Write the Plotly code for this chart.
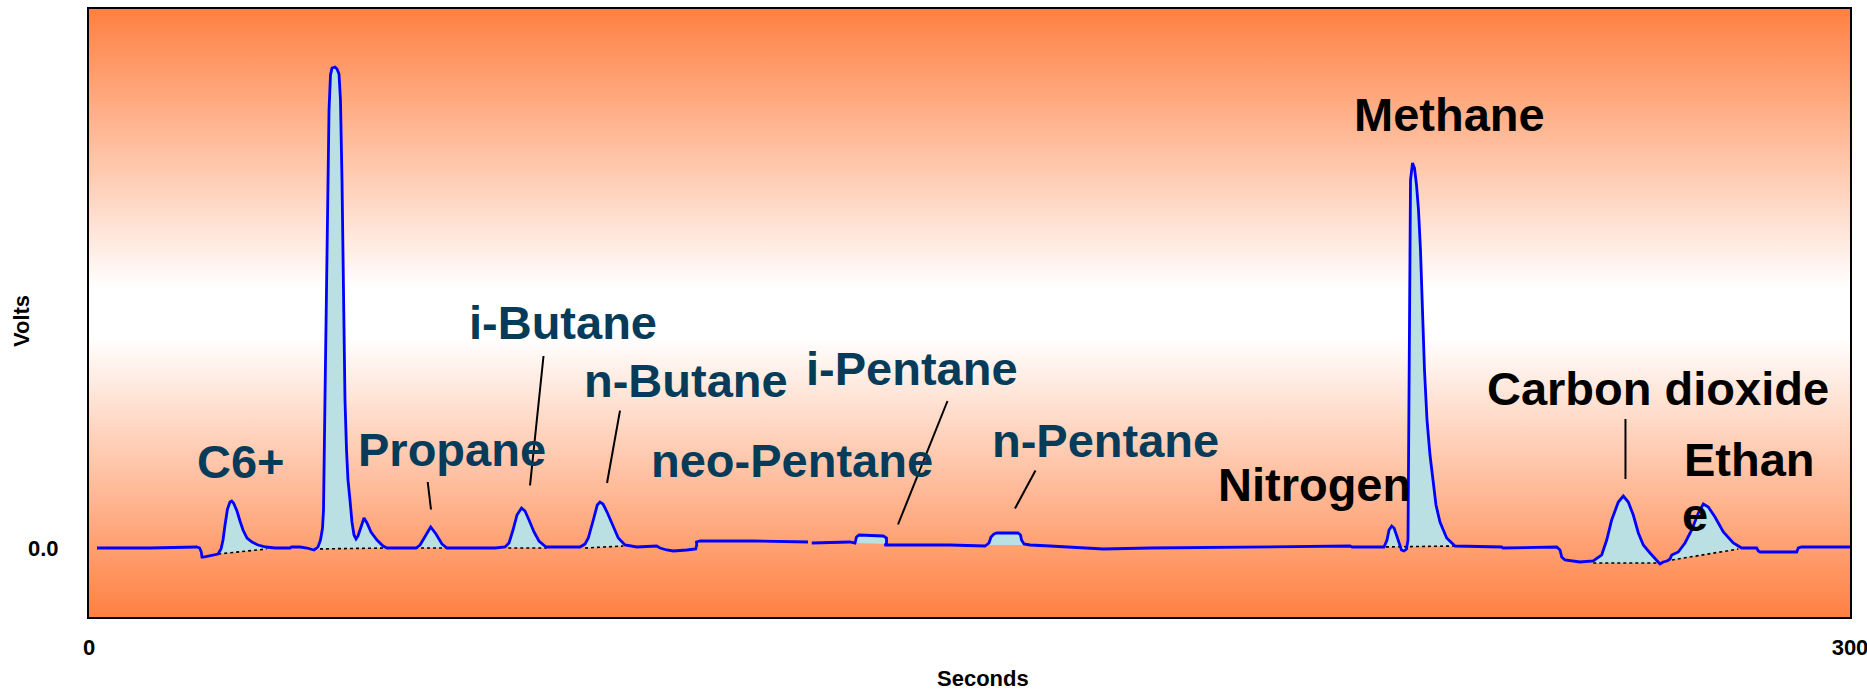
import plotly.graph_objects as go

# ---------------- data ----------------
# Chromatogram signal: time (s) and detector output (V); None = pen break
time_s = [1.36, 10.39, 18.35, 18.86, 19.13, 19.25, 19.51, 20.61, 21.98, 22.49, 22.83, 23.17, 23.59, 24.02, 24.31,
          24.62, 25.21, 25.72, 26.24, 26.92, 27.77, 28.79, 30.15, 31.69, 34.24, 34.50, 35.95, 37.14, 38.33, 39.01,
          39.44, 39.78, 39.95, 40.20, 40.55, 40.89, 41.14, 41.40, 41.91, 42.25, 42.59, 42.84, 43.10, 43.36, 43.61,
          43.87, 44.12, 44.46, 44.80, 45.14, 45.49, 45.83, 46.34, 46.85, 47.36, 48.04, 49.06, 50.09, 50.77, 54.68,
          55.71, 56.39, 57.24, 58.21, 59.11, 60.14, 60.99, 64.91, 69.17, 70.87, 71.55, 72.23, 72.91, 73.68, 74.28,
          74.96, 75.81, 76.66, 77.85, 80.24, 83.65, 84.50, 85.06, 85.91, 86.59, 87.05, 87.56, 88.25, 89.05, 90.17,
          91.31, 93.31, 96.71, 97.27, 98.42, 99.54, 101.82, 103.36, 103.53, 103.49, 104.09, 113.12, 122.49, None,
          123.12, 129.64, 130.49, 130.75, 131.18, 135.32, 135.86, 135.86, 135.52, 146.68, 152.64, 153.32, 153.66,
          154.17, 154.68, 158.26, 158.69, 158.86, 159.28, 160.31, 163.71, 170.53, 172.79, 180.75, 197.79, 214.82,
          215.16, 220.61, 221.12, 221.47, 221.93, 222.32, 222.74, 223.22, 223.59, 224.02, 224.45, 224.70, 224.82,
          224.96, 225.13, 225.47, 225.81, 226.15, 226.49, 226.83, 227.17, 227.51, 227.94, 228.45, 228.96, 229.47,
          230.15, 231.29, 232.71, 240.66, 240.89, 250.03, 250.60, 250.89, 251.45, 254.00, 256.27, 257.70, 258.55,
          259.40, 260.53, 261.38, 262.23, 263.08, 263.94, 264.79, 265.93, 267.07, 267.63, 268.19, 268.82, 269.34,
          269.63, 270.75, 271.89, 273.03, 274.16, 275.01, 275.86, 277.00, 278.42, 280.12, 281.55, 284.10, 284.38,
          284.67, 290.92, 291.19, 291.77, 300.0]
volts = [0.00, 0.00, 0.01, 0.00, -0.04, -0.09, -0.09, -0.08, -0.06, -0.01, 0.08, 0.23, 0.39, 0.46, 0.47,
         0.45, 0.37, 0.27, 0.18, 0.10, 0.06, 0.03, 0.01, 0.00, 0.00, 0.01, 0.01, 0.00, -0.02, 0.01,
         0.08, 0.20, 0.38, 1.48, 2.98, 4.38, 4.73, 4.80, 4.81, 4.79, 4.74, 4.48, 3.68, 2.48, 1.48,
         0.98, 0.68, 0.48, 0.26, 0.13, 0.09, 0.12, 0.22, 0.30, 0.25, 0.16, 0.08, 0.02, 0.00, 0.00,
         0.00, 0.03, 0.11, 0.21, 0.14, 0.04, 0.00, 0.00, 0.00, 0.01, 0.05, 0.18, 0.33, 0.40, 0.37,
         0.28, 0.16, 0.07, 0.01, 0.01, 0.01, 0.04, 0.10, 0.28, 0.43, 0.46, 0.44, 0.36, 0.25, 0.10,
         0.03, 0.01, 0.02, 0.00, -0.02, -0.03, -0.02, -0.01, 0.03, 0.06, 0.07, 0.07, 0.06, None,
         0.05, 0.06, 0.05, 0.11, 0.13, 0.12, 0.10, 0.04, 0.03, 0.03, 0.02, 0.05, 0.11,
         0.14, 0.15, 0.15, 0.13, 0.08, 0.04, 0.03, 0.02, 0.00, -0.01, 0.00, 0.01, 0.02,
         0.01, 0.01, 0.08, 0.18, 0.22, 0.20, 0.13, 0.03, -0.02, -0.03, -0.01, 0.08, 1.48,
         2.98, 3.68, 3.85, 3.80, 3.63, 3.38, 2.98, 2.38, 1.78, 1.28, 0.93, 0.68, 0.43,
         0.26, 0.10, 0.02, 0.01, 0.00, 0.01, -0.02, -0.09, -0.12, -0.14, -0.13, -0.07, 0.08,
         0.28, 0.46, 0.52, 0.46, 0.33, 0.15, 0.03, -0.05, -0.13, -0.16, -0.14, -0.13, -0.11,
         -0.07, -0.04, 0.05, 0.18, 0.35, 0.44, 0.41, 0.31, 0.16, 0.05, 0.00, 0.00, -0.03,
         -0.04, -0.04, 0.00, 0.01, 0.01]

# Integrated peak windows: start/end time (s) and the drawn baseline (V) at each end
peak_start_t = [22.02, 38.33, 55.54, 71.43, 84.50, 130.49, 153.15, 219.93, 256.27, 268.65]
peak_start_v = [-0.06, -0.01, 0.00, 0.00, 0.00, 0.05, 0.03, 0.01, -0.15, -0.13]
peak_end_t = [30.27, 50.72, 60.94, 77.97, 91.02, 135.90, 159.63, 232.71, 267.07, 280.97]
peak_end_v = [-0.01, 0.00, 0.00, 0.00, 0.02, 0.04, 0.03, 0.02, -0.15, -0.01]
peak_dotted_baseline = [True, True, True, True, True, False, False, True, True, True]

# Component labels (text position in s / V)
label_text = ["C6+", "Propane", "i-Butane", "n-Butane", "neo-Pentane", "i-Pentane", "n-Pentane",
              "Nitrogen", "Methane", "Carbon dioxide"]
label_t = [25.89, 61.84, 80.75, 101.70, 119.76, 140.20, 173.25, 208.69, 231.69, 267.29]
label_v = [0.87, 0.99, 2.26, 1.68, 0.88, 1.80, 1.08, 0.64, 4.34, 1.60]
label_dark = [False, False, False, False, False, False, False, True, True, True]
# "Ethane" wraps in the original as "Ethan" / "e", left aligned
wrap_text = ["Ethan", "e"]
wrap_t = [271.38, 271.04]
wrap_v = [0.89, 0.34]

# Leader lines: (t0, v0, t1, v1)
leader_t0 = [57.70, 77.43, 90.46, 146.25, 161.24, 261.75]
leader_v0 = [0.66, 1.92, 1.374, 1.47, 0.775, 1.29]
leader_t1 = [58.26, 75.13, 88.25, 137.82, 157.75, 261.75]
leader_v1 = [0.385, 0.625, 0.65, 0.235, 0.395, 0.69]

x_ticks = [0, 300]
x_tick_text = ["0", "300"]
y_ticks = [0]
y_tick_text = ["0.0"]
x_range = [0, 300]
y_range = [-0.69, 5.39]
x_title = "Seconds"
y_title = "Volts"

# ---------------- styling ----------------
FONT = "Liberation Sans, Arial, sans-serif"
TEAL = "rgb(6,60,90)"
BLUE = "#0000FF"
FILL = "rgb(186,224,228)"
ORANGE = "rgb(255,128,66)"

fig = go.Figure()

# gradient background (orange - white - orange)
fig.add_trace(go.Scatter(
    x=[x_range[0], x_range[1], x_range[1], x_range[0], x_range[0]],
    y=[y_range[0], y_range[0], y_range[1], y_range[1], y_range[0]],
    mode="lines", line=dict(width=0), fill="toself",
    fillgradient=dict(type="vertical",
                      colorscale=[[0, ORANGE], [0.46, "white"], [0.54, "white"], [1, ORANGE]],
                      start=y_range[0], stop=y_range[1]),
    hoverinfo="skip", showlegend=False))

# peak fills
for i in range(len(peak_start_t)):
    t0, t1 = peak_start_t[i], peak_end_t[i]
    px = [t0]
    py = [peak_start_v[i]]
    for t, v in zip(time_s, volts):
        if t is None:
            continue
        if t0 < t < t1:
            px.append(t)
            py.append(v)
    px.append(t1)
    py.append(peak_end_v[i])
    fig.add_trace(go.Scatter(x=px, y=py, mode="lines", line=dict(width=0),
                             fill="toself", fillcolor=FILL, hoverinfo="skip", showlegend=False))

# dotted integration baselines
for i in range(len(peak_start_t)):
    if peak_dotted_baseline[i]:
        fig.add_trace(go.Scatter(x=[peak_start_t[i], peak_end_t[i]], y=[peak_start_v[i], peak_end_v[i]],
                                 mode="lines", line=dict(color="black", width=1.6, dash="dot"),
                                 hoverinfo="skip", showlegend=False))

# signal
fig.add_trace(go.Scatter(x=time_s, y=volts, mode="lines", line=dict(color=BLUE, width=2.8),
                         connectgaps=False, showlegend=False))

# leader lines
for i in range(len(leader_t0)):
    fig.add_shape(type="line", xref="x", yref="y",
                  x0=leader_t0[i], y0=leader_v0[i], x1=leader_t1[i], y1=leader_v1[i],
                  line=dict(color="black", width=2))

# labels
for txt, t, v, dark in zip(label_text, label_t, label_v, label_dark):
    fig.add_annotation(x=t, y=v, xref="x", yref="y", text=txt, showarrow=False,
                       xanchor="center", yanchor="middle",
                       font=dict(family=FONT, size=47, color="black" if dark else TEAL, weight="bold"))
for txt, t, v in zip(wrap_text, wrap_t, wrap_v):
    fig.add_annotation(x=t, y=v, xref="x", yref="y", text=txt, showarrow=False,
                       xanchor="left", yanchor="middle",
                       font=dict(family=FONT, size=47, color="black", weight="bold"))

axis_font = dict(family=FONT, size=22, color="black", weight="bold")

# axis titles
fig.add_annotation(x=0.5077, y=-0.101, xref="paper", yref="paper", text=x_title, showarrow=False,
                   xanchor="center", yanchor="middle", font=axis_font)
fig.add_annotation(x=-0.0386, y=0.4868, xref="paper", yref="paper", text=y_title, showarrow=False,
                   textangle=-90, xanchor="center", yanchor="middle", font=axis_font)

fig.update_xaxes(range=x_range, tickvals=x_ticks, ticktext=x_tick_text, showgrid=False, zeroline=False,
                 showline=True, mirror=True, linecolor="black", linewidth=2, ticks="",
                 tickfont=axis_font, ticklabelstandoff=10, ticklabeloverflow="allow")
fig.update_yaxes(range=y_range, tickvals=y_ticks, ticktext=y_tick_text, showgrid=False, zeroline=False,
                 showline=True, mirror=True, linecolor="black", linewidth=2, ticks="",
                 tickfont=axis_font, ticklabelstandoff=24, ticklabeloverflow="allow")

fig.update_layout(width=1867, height=692, margin=dict(l=89, r=17, t=9, b=75, autoexpand=False),
                  paper_bgcolor="white", plot_bgcolor="white", showlegend=False,
                  font=dict(family=FONT))

fig.write_html("out.html", config={"displayModeBar": False, "staticPlot": True},
               post_script="document.body.style.margin='0';")
